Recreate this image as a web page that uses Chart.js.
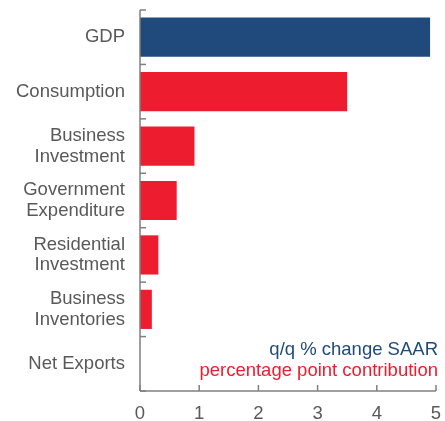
<!DOCTYPE html>
<html>
<head>
<meta charset="utf-8">
<script src="https://cdn.jsdelivr.net/npm/chart.js@4/dist/chart.umd.min.js"></script>
<style>
html,body{margin:0;padding:0;background:#fff;}
#wrap{width:445px;height:421px;position:relative;}
</style>
</head>
<body>
<div id="wrap"><canvas id="c" width="445" height="421"></canvas></div>
<script>
const categories = ["GDP", "Consumption", ["Business", "Investment"], ["Government", "Expenditure"], ["Residential", "Investment"], ["Business", "Inventories"], "Net Exports"];
const values = [4.9, 3.5, 0.92, 0.62, 0.31, 0.2, 0];
const xTicks = [0, 1, 2, 3, 4, 5];
const noteLines = ["q/q % change SAAR", "percentage point contribution"];

const NAVY = "#204A7C";
const RED = "#ED1C2E";
const GREY = "#595959";
const AXIS = "#7F7F7F";
const FONT = "'Liberation Sans', Arial, sans-serif";
const FS = 18.5;

const inwardTicks = {
  id: "inwardTicks",
  afterDraw(chart) {
    const ctx = chart.ctx;
    const xs = chart.scales.x;
    const a = chart.chartArea;
    ctx.save();
    ctx.strokeStyle = AXIS;
    ctx.lineWidth = 1.5;
    ctx.beginPath();
    ctx.moveTo(a.left, a.top);
    ctx.lineTo(a.left, a.bottom);
    ctx.stroke();
    ctx.beginPath();
    ctx.moveTo(a.left, a.bottom);
    ctx.lineTo(a.right, a.bottom);
    ctx.stroke();
    const n = categories.length;
    const step = (a.bottom - a.top) / n;
    for (let i = 0; i <= n; i++) {
      const y = a.top + i * step;
      ctx.beginPath();
      ctx.moveTo(a.left, y);
      ctx.lineTo(a.left + 6, y);
      ctx.stroke();
    }
    xTicks.forEach(v => {
      const x = xs.getPixelForValue(v);
      ctx.beginPath();
      ctx.moveTo(x, a.bottom);
      ctx.lineTo(x, a.bottom - 6);
      ctx.stroke();
    });
    ctx.font = FS + "px " + FONT;
    ctx.textAlign = "right";
    ctx.textBaseline = "middle";
    ctx.fillStyle = NAVY;
    ctx.fillText(noteLines[0], a.right + 2, a.bottom - 41);
    ctx.fillStyle = RED;
    ctx.fillText(noteLines[1], a.right + 2, a.bottom - 20);
    ctx.restore();
  }
};

new Chart(document.getElementById("c"), {
  type: "bar",
  data: {
    labels: categories,
    datasets: [{
      data: values,
      backgroundColor: values.map((v, i) => i === 0 ? NAVY : RED),
      borderWidth: 0,
      categoryPercentage: 1,
      barPercentage: 0.72
    }]
  },
  options: {
    indexAxis: "y",
    responsive: false,
    animation: false,
    layout: { padding: { top: 10, right: 9, left: 0, bottom: 0 } },
    plugins: { legend: { display: false }, tooltip: { enabled: false } },
    scales: {
      x: {
        min: 0, max: 5,
        afterFit(s) { s.height = 30; s.paddingLeft = 0; s.paddingRight = 0; },
        afterBuildTicks(s) { s.ticks = xTicks.map(v => ({ value: v })); },
        grid: { display: false, drawTicks: false },
        border: { display: false },
        ticks: { color: GREY, font: { family: FONT, size: FS }, padding: 12 }
      },
      y: {
        afterFit(s) { s.width = 140; s.paddingTop = 0; s.paddingBottom = 0; },
        grid: { display: false, drawTicks: false },
        border: { display: false },
        ticks: { color: GREY, font: { family: FONT, size: FS, lineHeight: 1.12 }, padding: 15 }
      }
    }
  },
  plugins: [inwardTicks]
});
</script>
</body>
</html>
